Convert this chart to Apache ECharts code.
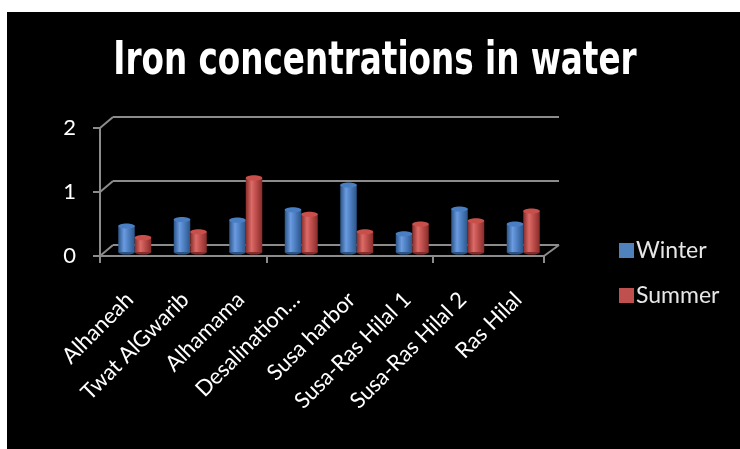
<!DOCTYPE html>
<html>
<head>
<meta charset="utf-8">
<script src="https://cdn.jsdelivr.net/npm/echarts@6/dist/echarts.min.js"></script>
<style>
html,body{margin:0;padding:0;background:#fff;}
#c{width:740px;height:449px;}
</style>
</head>
<body>
<div id="c"></div>
<script>
const categories = ['Alhaneah','Twat AlGwarib','Alhamama','Desalination…','Susa harbor','Susa-Ras Hilal 1','Susa-Ras Hilal 2','Ras Hilal'];
const winter = [0.40, 0.50, 0.49, 0.65, 1.03, 0.28, 0.66, 0.43];
const summer = [0.22, 0.31, 1.14, 0.58, 0.31, 0.43, 0.48, 0.63];
const yTicks = [0, 1, 2];
const titleText = 'Iron concentrations in water';

const chart = echarts.init(document.getElementById('c'), null, {renderer:'canvas'});
const GRAY = '#8c8c8c';
const LABEL_FONT = 'Lato, "Open Sans", sans-serif';

function cylinder(side, dark, mid, light, cap) {
  return function (params, api) {
    const cat = api.value(0), val = api.value(1);
    const top = api.coord([cat, val]);
    const base = api.coord([cat, 0]);
    const bw = 16.5;
    const cx = top[0] + side * bw / 2;
    const ry = 2.6;
    return {
      type: 'group',
      children: [
        {type:'ellipse', shape:{cx:cx, cy:base[1], rx:bw/2, ry:ry}, style:{fill:dark}},
        {type:'rect', shape:{x:cx-bw/2, y:top[1], width:bw, height:base[1]-top[1]},
         style:{fill:new echarts.graphic.LinearGradient(0,0,1,0,[
           {offset:0,color:dark},{offset:0.35,color:light},{offset:0.6,color:mid},{offset:1,color:dark}])}},
        {type:'ellipse', shape:{cx:cx, cy:top[1], rx:bw/2, ry:ry}, style:{fill:cap}}
      ]
    };
  };
}

const baseGraphic = [
  {type:'rect', z:-10, shape:{x:7, y:12, width:733, height:437}, style:{fill:'#000'}},
  {type:'text', x:375, y:62.5, scaleX:0.788, scaleY:1,
   style:{text:titleText, fill:'#fff', align:'center', verticalAlign:'middle',
          font:'bold 46px "DejaVu Sans Condensed","DejaVu Sans",sans-serif'}}
];

const option = {
  backgroundColor: '#ffffff',
  animation: false,
  graphic: baseGraphic,
  legend: {
    orient:'vertical', left:614, top:234, itemWidth:15, itemHeight:15, itemGap:22,
    icon:'rect',
    textStyle:{color:'#e6e6e6', fontSize:23, fontFamily:LABEL_FONT, padding:[0,0,0,-3]},
    data:[{name:'Winter', itemStyle:{color:'#4F81BD'}},{name:'Summer', itemStyle:{color:'#C0504D'}}]
  },
  grid: [
    {left:113, right:181, top:117, bottom:204},
    {left:100, right:196, top:128, bottom:193},
    {left:107, right:189, top:122, bottom:197},
    {left:102, right:194, top:128, bottom:193}
  ],
  xAxis: [
    {gridIndex:0, type:'category', data:categories, show:false},
    {gridIndex:1, type:'category', data:categories,
     axisLine:{lineStyle:{color:GRAY, width:2}},
     axisTick:{show:true, length:7, lineStyle:{color:GRAY, width:2}},
     axisLabel:{show:false}},
    {gridIndex:2, type:'category', data:categories, show:false},
    {gridIndex:3, type:'category', data:categories,
     axisLine:{show:false}, axisTick:{show:false},
     axisLabel:{rotate:45, interval:0, color:'#fff', fontSize:22, fontFamily:LABEL_FONT, margin:40}}
  ],
  yAxis: [
    {gridIndex:0, type:'value', min:0, max:2, interval:1, axisLine:{show:false}, axisTick:{show:false}, axisLabel:{show:false},
     splitLine:{lineStyle:{color:GRAY, width:2}}},
    {gridIndex:1, type:'value', min:0, max:2, interval:1,
     axisLine:{show:true, lineStyle:{color:GRAY, width:2}},
     axisTick:{show:true, length:7, lineStyle:{color:GRAY, width:2}},
     axisLabel:{color:'#fff', fontSize:22, fontFamily:LABEL_FONT, margin:24},
     splitLine:{show:false}},
    {gridIndex:2, type:'value', min:0, max:2, interval:1, show:false, splitLine:{show:false}},
    {gridIndex:3, type:'value', min:0, max:2, interval:1, show:false, splitLine:{show:false}}
  ],
  series: [
    {name:'Winter', type:'custom', xAxisIndex:2, yAxisIndex:2, itemStyle:{color:'#4F81BD'},
     data: winter.map((v,i)=>[i,v]), renderItem: cylinder(-1,'#2b5588','#4f81c4','#6b9be0','#4a7ec2')},
    {name:'Summer', type:'custom', xAxisIndex:2, yAxisIndex:2, itemStyle:{color:'#C0504D'},
     data: summer.map((v,i)=>[i,v]), renderItem: cylinder(1,'#862c2a','#c0504d','#dc6b67','#c94f4b')}
  ]
};
chart.setOption(option);

// depth connectors derived from the axis scales of the front and back grids
const extra = [];
const stepF = chart.convertToPixel({xAxisIndex:1},1)-chart.convertToPixel({xAxisIndex:1},0);
const stepB = chart.convertToPixel({xAxisIndex:0},1)-chart.convertToPixel({xAxisIndex:0},0);
yTicks.forEach(t => {
  const fy = chart.convertToPixel({yAxisIndex:1}, t);
  const by = chart.convertToPixel({yAxisIndex:0}, t);
  const fx = chart.convertToPixel({xAxisIndex:1}, 0) - stepF/2;
  const bx = chart.convertToPixel({xAxisIndex:0}, 0) - stepB/2;
  extra.push({type:'line', shape:{x1:fx, y1:fy, x2:bx, y2:by}, style:{stroke:GRAY, lineWidth:2}});
});
{
  const n = categories.length - 1;
  const fx = chart.convertToPixel({xAxisIndex:1}, n) + stepF/2;
  const bx = chart.convertToPixel({xAxisIndex:0}, n) + stepB/2;
  const fy = chart.convertToPixel({yAxisIndex:1}, 0);
  const by = chart.convertToPixel({yAxisIndex:0}, 0);
  extra.push({type:'line', shape:{x1:fx, y1:fy, x2:bx, y2:by}, style:{stroke:GRAY, lineWidth:2}});
}
chart.setOption({graphic: baseGraphic.concat(extra)});
</script>
</body>
</html>
